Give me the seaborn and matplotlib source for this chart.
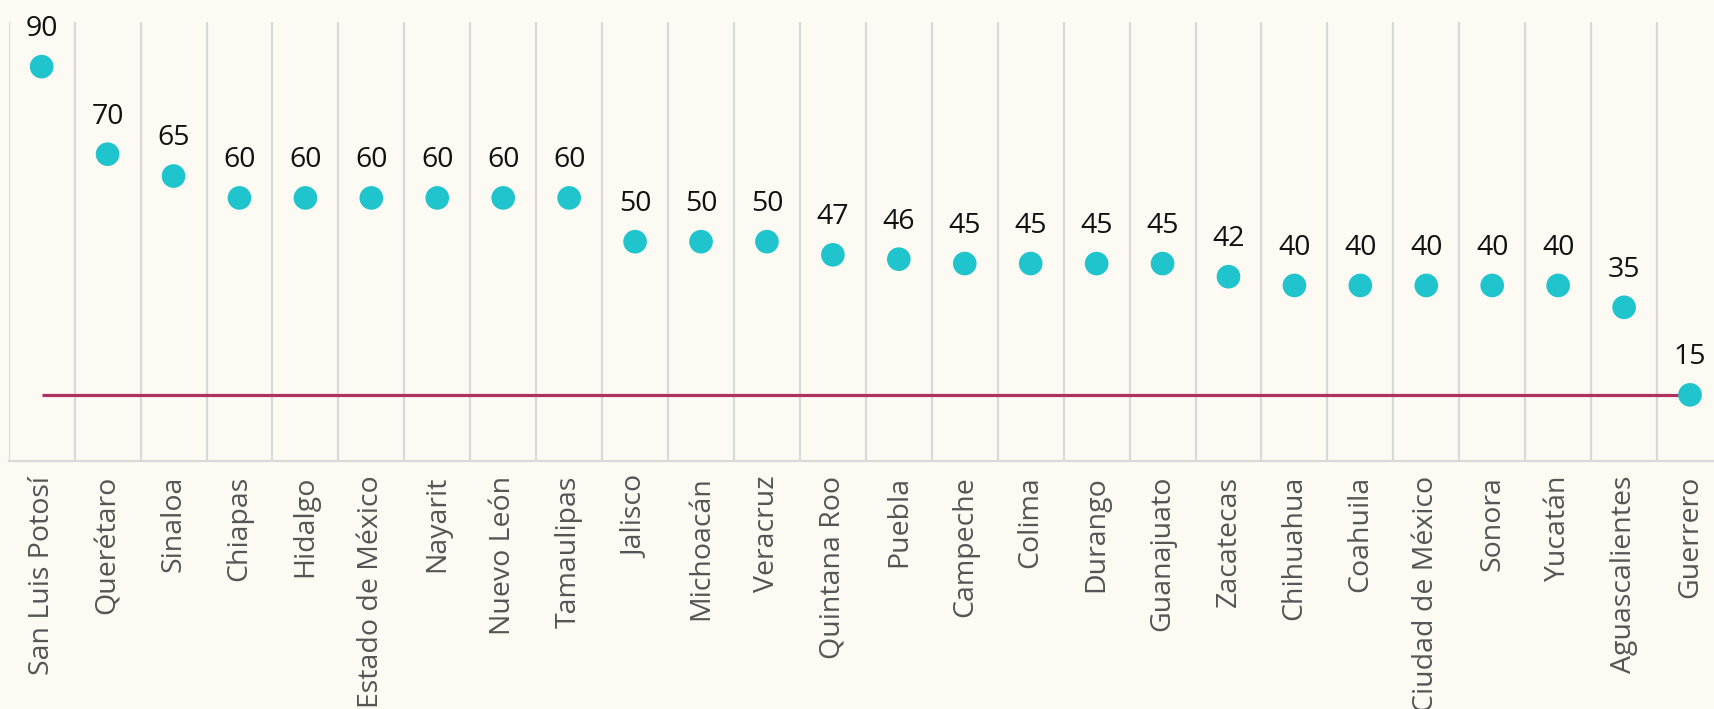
import matplotlib
matplotlib.use("Agg")
import matplotlib.pyplot as plt
import seaborn as sns
import pandas as pd

states = ["San Luis Potosí", "Querétaro", "Sinaloa", "Chiapas", "Hidalgo",
          "Estado de México", "Nayarit", "Nuevo León", "Tamaulipas", "Jalisco",
          "Michoacán", "Veracruz", "Quintana Roo", "Puebla", "Campeche", "Colima",
          "Durango", "Guanajuato", "Zacatecas", "Chihuahua", "Coahuila",
          "Ciudad de México", "Sonora", "Yucatán", "Aguascalientes", "Guerrero"]
values = [90, 70, 65, 60, 60, 60, 60, 60, 60, 50, 50, 50, 47, 46, 45, 45, 45, 45,
          42, 40, 40, 40, 40, 40, 35, 15]
reference_value = 15

BG = "#FDFAF4"
DOT = "#1FC4CC"
LINE = "#B0305F"
GRID = "#D9D9D9"

sns.set_theme(style="white")
plt.rcParams["font.family"] = ["Open Sans", "DejaVu Sans"]

df = pd.DataFrame({"estado": states, "valor": values})

fig = plt.figure(figsize=(17.14, 7.09), dpi=100, facecolor=BG)
W, H = 1714, 709
left, right, top, bottom = 8.7, 1723.0, 22.0, 460.5
ax = fig.add_axes([left / W, 1 - bottom / H, (right - left) / W, (bottom - top) / H])
ax.set_facecolor(BG)

sns.scatterplot(data=df, x="estado", y="valor", ax=ax, color=DOT, s=290,
                edgecolor="none", linewidth=0, zorder=3, legend=False)

# reference line from first to last category
ax.plot([states[0], states[-1]], [reference_value, reference_value], color=LINE,
        lw=2.3, solid_capstyle="butt", zorder=2)

for i, v in enumerate(values):
    ax.annotate(f"{v}", (i, v), xytext=(0, 22), textcoords="offset points",
                ha="center", va="baseline", fontsize=20.5, color="#111111")

ax.set_xlim(-0.5, len(states) - 0.5)
ax.set_ylim(0, 100.2)
ax.set_yticks([])
ax.set_xlabel("")
ax.set_ylabel("")

ax.set_xticks(range(len(states)))
ax.set_xticklabels(states, rotation=90, fontsize=20.5, color="#555555")
ax.tick_params(axis="x", length=0, pad=11)
ax.set_xticks([i - 0.5 for i in range(len(states) + 1)], minor=True)
ax.tick_params(axis="x", which="minor", length=0)
ax.grid(True, which="minor", axis="x", color=GRID, lw=1.6)
ax.grid(False, which="major")

for s in ["top", "right", "left"]:
    ax.spines[s].set_visible(False)
ax.spines["bottom"].set_color(GRID)
ax.spines["bottom"].set_linewidth(1.6)

fig.savefig("out.png", dpi=100, facecolor=BG)
